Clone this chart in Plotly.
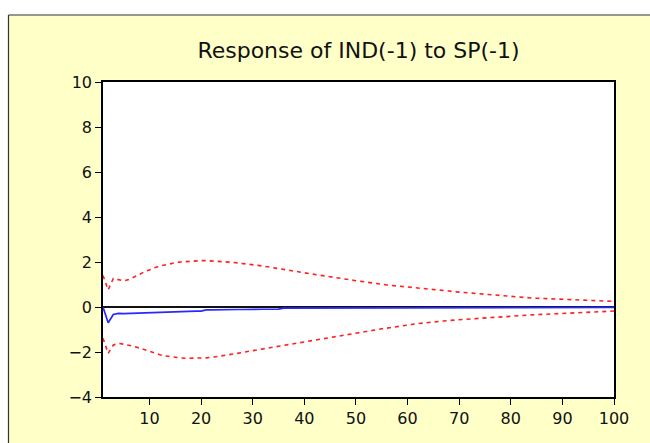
import plotly.graph_objects as go

periods = list(range(1, 101))

response = [
    0.00, -0.70, -0.33, -0.28, -0.29, -0.28, -0.28, -0.27, -0.27, -0.26,
    -0.26, -0.22, -0.21, -0.21, -0.20, -0.20, -0.19, -0.19, -0.18, -0.18,
    -0.13, -0.13, -0.12, -0.12, -0.12, -0.11, -0.11, -0.11, -0.10, -0.10,
    -0.10, -0.10, -0.10, -0.10, -0.09, -0.05, -0.05, -0.05, -0.05, -0.04,
    -0.04, -0.04, -0.04, -0.04, -0.04, -0.04, -0.04, -0.04, -0.04, -0.04,
    -0.04, -0.04, -0.04, -0.04, -0.03, -0.03, -0.03, -0.03, -0.03, -0.03,
    -0.03, -0.03, -0.03, -0.03, -0.03, -0.03, -0.03, -0.03, -0.03, -0.03,
    -0.03, -0.03, -0.03, -0.03, -0.03, -0.02, -0.02, -0.02, -0.02, -0.02,
    -0.02, -0.02, -0.02, -0.02, -0.02, -0.02, -0.02, -0.02, -0.02, -0.02,
    -0.02, -0.02, -0.02, -0.02, -0.02, -0.02, -0.02, -0.02, -0.02, -0.02,
]

upper = [
    1.40, 0.76, 1.27, 1.20, 1.16, 1.22, 1.32, 1.44, 1.56, 1.66,
    1.74, 1.82, 1.88, 1.93, 1.97, 2.00, 2.02, 2.04, 2.05, 2.06,
    2.06, 2.05, 2.04, 2.03, 2.01, 1.99, 1.96, 1.94, 1.91, 1.88,
    1.85, 1.82, 1.78, 1.74, 1.70, 1.67, 1.63, 1.59, 1.56, 1.52,
    1.48, 1.45, 1.41, 1.38, 1.34, 1.31, 1.27, 1.24, 1.20, 1.17,
    1.14, 1.10, 1.07, 1.04, 1.01, 0.98, 0.96, 0.93, 0.90, 0.88,
    0.86, 0.84, 0.81, 0.79, 0.77, 0.75, 0.73, 0.71, 0.68, 0.66,
    0.64, 0.62, 0.60, 0.57, 0.55, 0.53, 0.51, 0.50, 0.48, 0.46,
    0.45, 0.43, 0.42, 0.40, 0.39, 0.38, 0.36, 0.35, 0.34, 0.33,
    0.32, 0.31, 0.30, 0.30, 0.29, 0.28, 0.27, 0.27, 0.26, 0.25,
]

lower = [
    -1.39, -2.06, -1.69, -1.62, -1.65, -1.69, -1.75, -1.82, -1.90, -1.98,
    -2.05, -2.12, -2.17, -2.21, -2.24, -2.26, -2.28, -2.28, -2.28, -2.27,
    -2.26, -2.24, -2.21, -2.18, -2.14, -2.10, -2.06, -2.02, -1.98, -1.94,
    -1.90, -1.87, -1.83, -1.79, -1.75, -1.71, -1.67, -1.64, -1.60, -1.56,
    -1.52, -1.48, -1.44, -1.40, -1.36, -1.32, -1.28, -1.24, -1.20, -1.16,
    -1.12, -1.08, -1.04, -1.01, -0.97, -0.94, -0.90, -0.87, -0.83, -0.80,
    -0.77, -0.74, -0.71, -0.68, -0.66, -0.64, -0.62, -0.60, -0.58, -0.57,
    -0.55, -0.54, -0.52, -0.51, -0.49, -0.47, -0.46, -0.44, -0.43, -0.41,
    -0.40, -0.38, -0.37, -0.35, -0.34, -0.33, -0.31, -0.30, -0.28, -0.27,
    -0.26, -0.25, -0.24, -0.23, -0.22, -0.21, -0.20, -0.19, -0.19, -0.18,
]

x_ticks = [10, 20, 30, 40, 50, 60, 70, 80, 90, 100]
y_ticks = [-4, -2, 0, 2, 4, 6, 8, 10]
title_text = "Response of IND(-1) to SP(-1)"

W, H = 650, 443
ML, MT = 103, 82
MR = W - 614
MB = H - 397
PW, PH = W - ML - MR, H - MT - MB


def px2x(p):
    return (p - ML) / PW


def py2y(p):
    return (H - MB - p) / PH


YELLOW = "#FFFFC8"
FONT = "DejaVu Sans, Verdana, sans-serif"

fig = go.Figure()
fig.add_trace(go.Scatter(x=periods, y=upper, mode="lines",
                         line=dict(color="#FF2020", width=1.6, dash="4px,4px"),
                         showlegend=False, hoverinfo="skip"))
fig.add_trace(go.Scatter(x=periods, y=lower, mode="lines",
                         line=dict(color="#FF2020", width=1.6, dash="4px,4px"),
                         showlegend=False, hoverinfo="skip"))
fig.add_trace(go.Scatter(x=periods, y=response, mode="lines",
                         line=dict(color="#2828FF", width=1.7),
                         showlegend=False, hoverinfo="skip"))

shapes = [
    # white strip above the yellow frame
    dict(type="rect", xref="paper", yref="paper", x0=px2x(-5), x1=px2x(660),
         y0=py2y(15), y1=py2y(-5), fillcolor="white", line=dict(width=0), layer="below"),
    # white strip left of the yellow frame
    dict(type="rect", xref="paper", yref="paper", x0=px2x(-5), x1=px2x(8),
         y0=py2y(460), y1=py2y(15), fillcolor="white", line=dict(width=0), layer="below"),
    # frame border lines
    dict(type="line", xref="paper", yref="paper", x0=px2x(8.5), x1=px2x(660),
         y0=py2y(15), y1=py2y(15), line=dict(color="#333333", width=1.2)),
    dict(type="line", xref="paper", yref="paper", x0=px2x(8.5), x1=px2x(8.5),
         y0=py2y(15), y1=py2y(460), line=dict(color="#333333", width=1.2)),
]

fig.update_layout(
    width=W, height=H,
    margin=dict(l=ML, r=MR, t=MT, b=MB, pad=0),
    paper_bgcolor=YELLOW,
    plot_bgcolor="white",
    shapes=shapes,
    hovermode=False,
    title=dict(text=title_text, x=358.5 / W, xanchor="center",
               y=1 - 50 / H, yanchor="middle",
               font=dict(family=FONT, size=22, color="#111111")),
    font=dict(family=FONT, size=16, color="#111111"),
)
fig.update_xaxes(range=[1, 100], tickvals=x_ticks, ticks="outside", ticklen=6,
                 tickcolor="black", tickwidth=1.2, showgrid=False, zeroline=False,
                 showline=True, linecolor="black", linewidth=1.5, mirror=True,
                 tickfont=dict(family=FONT, size=16, color="#111111"))
fig.update_yaxes(range=[-4, 10], tickvals=y_ticks, ticks="outside", ticklen=6,
                 tickcolor="black", tickwidth=1.2, showgrid=False,
                 zeroline=True, zerolinecolor="#111111", zerolinewidth=1.5,
                 showline=True, linecolor="black", linewidth=1.5, mirror=True,
                 tickfont=dict(family=FONT, size=16, color="#111111"))

fig.write_html(
    "out.html",
    config={"displayModeBar": False},
    post_script="document.body.style.margin='0';document.body.style.overflow='hidden';",
)
